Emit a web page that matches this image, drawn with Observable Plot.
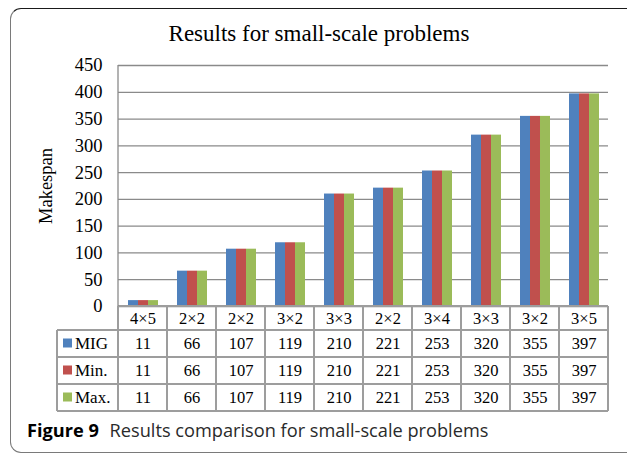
<!DOCTYPE html>
<html>
<head>
<meta charset="utf-8">
<script src="https://cdn.jsdelivr.net/npm/d3@7"></script>
<script src="https://cdn.jsdelivr.net/npm/@observablehq/plot@0.6"></script>
<style>
  html, body { margin: 0; padding: 0; background: #fff; }
  #figure { position: relative; width: 627px; height: 455px; overflow: hidden; background: #fff; }
  #box {
    position: absolute; left: 10px; top: 8px; width: 700px; height: 445px;
    border-top: 1px solid #1a1a1a; border-left: 1px solid #7a7a7a; border-bottom: 1px solid #7a7a7a;
    border-radius: 11px 0 0 11px; box-sizing: border-box;
  }
  #title {
    position: absolute; left: 319px; top: 22px; transform: translateX(-50%);
    font-family: "Liberation Serif", "Times New Roman", serif; font-size: 23px; line-height: 1;
    white-space: nowrap; color: #000;
  }
  #chart { position: absolute; left: 0; top: 0; }
  #caption {
    position: absolute; left: 27px; top: 421px; white-space: nowrap;
    font-family: "Open Sans", "Noto Sans", sans-serif; font-size: 18.2px; line-height: 1; color: #2a2a2a;
  }
  #caption b { font-weight: 700; color: #000; margin-right: 6px; }
</style>
</head>
<body>
<div id="figure">
  <div id="box"></div>
  <div id="title">Results for small-scale problems</div>
  <div id="chart"></div>
  <div id="caption"><b>Figure 9</b> Results comparison for small-scale problems</div>
</div>
<script>
// Problem sizes (one column per instance) and makespan per method
const categories = ["4×5", "2×2", "2×2", "3×2", "3×3", "2×2", "3×4", "3×3", "3×2", "3×5"];
const seriesNames = ["MIG", "Min.", "Max."];
const migValues = [11, 66, 107, 119, 210, 221, 253, 320, 355, 397];
const minValues = [11, 66, 107, 119, 210, 221, 253, 320, 355, 397];
const maxValues = [11, 66, 107, 119, 210, 221, 253, 320, 355, 397];
const seriesColors = ["#4F81BD", "#C0504D", "#9BBB59"];
const yTicks = [0, 50, 100, 150, 200, 250, 300, 350, 400, 450];

const valueLists = [migValues, minValues, maxValues];
const columns = categories.map((_, i) => i);
const rows = columns.flatMap(i =>
  seriesNames.map((s, k) => ({col: i, series: s, value: valueLists[k][i]}))
);

// data table geometry under the bars
const HEADER_H = 24;
const ROW_H = 27;
const LABEL_COL_W = 61;
const GRID = "#8a8a8a";
const TABLE_LINE = "#9d9d9d";
const SERIF = "Liberation Serif, Times New Roman, serif";
const TABLE_FONT = 16.5;

const tableText = [
  Plot.text(columns, {
    fx: d => d, text: d => categories[d], frameAnchor: "bottom",
    dy: HEADER_H / 2, lineAnchor: "middle", fontSize: TABLE_FONT, fontFamily: SERIF, fill: "#000"
  }),
  ...seriesNames.map((s, k) => Plot.text(columns, {
    fx: d => d, text: d => valueLists[k][d], frameAnchor: "bottom",
    dy: HEADER_H + ROW_H * k + ROW_H / 2, lineAnchor: "middle",
    fontSize: TABLE_FONT, fontFamily: SERIF, fill: "#000"
  }))
];

const chart = Plot.plot({
  width: 627,
  height: 420,
  marginTop: 65,
  marginLeft: 118,
  marginRight: 19,
  marginBottom: 114,
  style: {fontFamily: SERIF, fontSize: "18.5px", color: "#000", background: "transparent", overflow: "visible"},
  fx: {domain: columns, padding: 0, axis: null, label: null},
  x: {domain: seriesNames, paddingInner: 0, paddingOuter: 0.73, axis: null},
  y: {
    domain: [0, 450], ticks: yTicks, tickSize: 0, tickPadding: 16,
    label: "Makespan", labelAnchor: "center", labelOffset: 80, labelArrow: "none"
  },
  color: {domain: seriesNames, range: seriesColors},
  marks: [
    Plot.gridY(yTicks, {stroke: GRID, strokeOpacity: 1, strokeWidth: 1.3}),
    Plot.barY(rows, {fx: "col", x: "series", y: "value", fill: "series", inset: 0}),
    ...tableText
  ]
});

// Data-table borders and row headers, laid out from the plot's own fx and y scales
{
  const fx = chart.scale("fx");
  const y = chart.scale("y");
  const y0 = y.apply(0);
  const yTop = y.apply(yTicks[yTicks.length - 1]);
  const bottom = y0 + HEADER_H + ROW_H * seriesNames.length;
  const left = fx.apply(columns[0]);
  const right = fx.apply(columns[columns.length - 1]) + fx.bandwidth;
  const labelLeft = left - LABEL_COL_W;
  const rowLines = seriesNames.map((_, k) => y0 + HEADER_H + ROW_H * (k + 1));

  const g = d3.select(chart).append("g").attr("class", "data-table");
  const lines = g.append("g").attr("stroke", TABLE_LINE).attr("stroke-width", 2).attr("fill", "none");
  // horizontal borders
  lines.append("line").attr("x1", left).attr("x2", right).attr("y1", y0).attr("y2", y0);
  for (const yy of [y0 + HEADER_H, ...rowLines]) {
    lines.append("line").attr("x1", labelLeft).attr("x2", right).attr("y1", yy).attr("y2", yy);
  }
  // vertical borders between columns
  for (const c of columns) {
    const xx = fx.apply(c);
    lines.append("line").attr("x1", xx).attr("x2", xx).attr("y1", y0).attr("y2", bottom);
  }
  lines.append("line").attr("x1", right).attr("x2", right).attr("y1", y0).attr("y2", bottom);
  lines.append("line").attr("x1", labelLeft).attr("x2", labelLeft).attr("y1", y0 + HEADER_H).attr("y2", bottom);
  // vertical axis line of the plot area
  g.append("line").attr("x1", left).attr("x2", left).attr("y1", yTop).attr("y2", y0)
    .attr("stroke", GRID).attr("stroke-width", 1.3);
  // row headers with colour keys
  seriesNames.forEach((s, k) => {
    const cy = y0 + HEADER_H + ROW_H * k + ROW_H / 2;
    g.append("rect").attr("x", labelLeft + 6).attr("y", cy - 5).attr("width", 9).attr("height", 9)
      .attr("fill", seriesColors[k]);
    g.append("text").attr("x", labelLeft + 18).attr("y", cy).attr("dy", "0.35em")
      .attr("text-anchor", "start")
      .attr("font-family", SERIF).attr("font-size", TABLE_FONT + 0.5).attr("fill", "#000").text(s);
  });
}

document.getElementById("chart").appendChild(chart);
</script>
</body>
</html>
